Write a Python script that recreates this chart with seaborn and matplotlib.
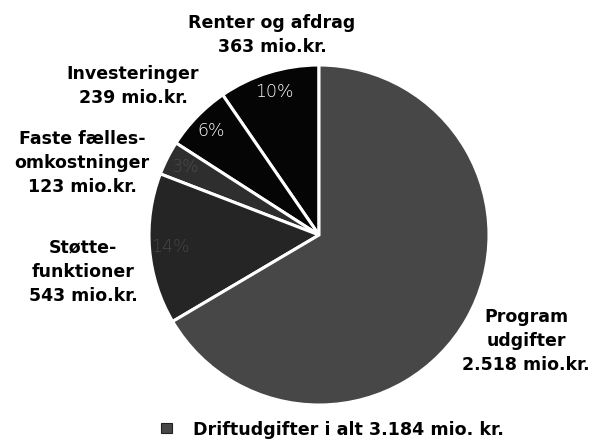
import matplotlib
matplotlib.use("Agg")
import matplotlib.pyplot as plt
import seaborn as sns
from matplotlib.patches import Rectangle

categories = ["Renter og afdrag", "Investeringer", "Faste fælles-\nomkostninger",
              "Støtte-\nfunktioner", "Program\nudgifter"]
values = [363, 239, 123, 543, 2518]
value_labels = ["363 mio.kr.", "239 mio.kr.", "123 mio.kr.", "543 mio.kr.", "2.518 mio.kr."]
legend_text = "Driftudgifter i alt 3.184 mio. kr."

colors = ["#050505", "#050505", "#2e2e2e", "#252525", "#474747"]
pct_colors = ["white", "white", "#4a4a4a", "#454545", "#474747"]

sns.set_theme(style="white")
plt.rcParams["font.family"] = ["DejaVu Sans"]
plt.rcParams["text.color"] = "black"

W, H = 590, 440
fig = plt.figure(figsize=(W / 100, H / 100), dpi=100)
cx, cy, r = 319, 235, 170
ax = fig.add_axes([(cx - r) / W, (H - cy - r) / H, 2 * r / W, 2 * r / H])
wedges, texts, autotexts = ax.pie(
    values, colors=colors, startangle=90, counterclock=True,
    autopct=lambda p: f"{p:.0f}%", pctdistance=0.88,
    wedgeprops=dict(edgecolor="white", linewidth=2.2),
    textprops=dict(fontsize=12.5, fontweight="light"))
for t, c in zip(autotexts, pct_colors):
    t.set_color(c)
ax.set_xlim(-1, 1)
ax.set_ylim(-1, 1)
ax.set_aspect("equal")
ax.axis("off")

def ftext(x, y, s, **kw):
    fig.text(x / W, 1 - y / H, s, ha="center", va="center", fontsize=12.5,
             fontweight="bold", linespacing=1.46, color="black", **kw)

label_pos = [(272, 35), (133, 86), (82, 163), (83, 272), (526, 341)]
for cat, vl, (x, y) in zip(categories, value_labels, label_pos):
    ftext(x, y, cat + "\n" + vl)

fig.patches.append(Rectangle((161 / W, 1 - 433 / H), 11 / W, 10 / H,
                             transform=fig.transFigure, facecolor="#474747",
                             edgecolor="#222222", linewidth=0.8))
fig.text(193 / W, 1 - 430 / H, legend_text, ha="left", va="center",
         fontsize=12.6, fontweight="bold", color="black")

fig.savefig("out.png", dpi=100, facecolor="white")
